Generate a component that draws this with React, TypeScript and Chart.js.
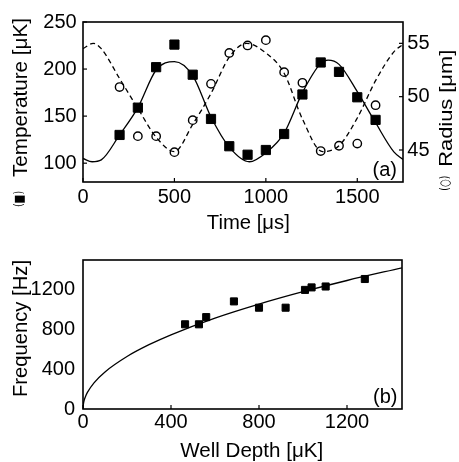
import React, { useEffect, useRef } from 'react';
import { Chart, registerables } from 'chart.js';

Chart.register(...registerables);

const FONT_FAMILY = '"Liberation Sans", Arial, Helvetica, sans-serif';
const SYMBOL_FAMILY = '"DejaVu Sans", "Liberation Sans", sans-serif';

// ---------- Panel (a): oscillation of temperature and radius ----------
const TIME_US = [200, 300, 400, 500, 600, 700, 800, 900, 1000, 1100, 1200, 1300, 1400, 1500, 1600];
const TEMPERATURE_UK = [130, 159, 202, 226, 194, 147, 118, 109, 114, 131, 173, 207, 197, 170, 146];
const RADIUS_UM = [50.9, 46.3, 46.3, 44.8, 47.8, 51.2, 54.1, 54.8, 55.3, 52.3, 51.3, 44.9, 45.4, 45.6, 49.2];

const TEMP_FIT_TIME = [0, 50, 100, 200, 300, 400, 500, 600, 700, 800, 910, 1000, 1100, 1200, 1300, 1340, 1400, 1500, 1600, 1700, 1750];
const TEMP_FIT_UK = [105, 101.5, 103.5, 130, 159, 199, 208, 193, 149, 117, 101.5, 111, 132, 175, 206, 209.5, 205, 176, 143, 112, 104];

const RADIUS_FIT_TIME = [0, 56, 100, 200, 300, 400, 500, 600, 700, 800, 895, 1000, 1100, 1200, 1310, 1400, 1500, 1600, 1700, 1750];
const RADIUS_FIT_UM = [54.5, 55, 54.5, 51.7, 48.9, 46.2, 44.85, 47.4, 50.3, 53.7, 55.0, 54.1, 52.2, 47.9, 44.85, 45.4, 48.0, 51.5, 54.2, 54.9];

const TIME_TICKS = [0, 500, 1000, 1500];
const TEMP_TICKS = [100, 150, 200, 250];
const RADIUS_TICKS = [45, 50, 55];

// ---------- Panel (b): frequency vs well depth ----------
const WELL_DEPTH_UK = [464, 527, 560, 686, 800, 921, 1009, 1039, 1103, 1281];
const FREQUENCY_HZ = [847, 847, 919, 1076, 1013, 1013, 1191, 1216, 1225, 1300];

const FIT_DEPTH_UK = [0, 2, 5, 10, 20, 50, 100, 200, 300, 400, 600, 800, 1000, 1200, 1450];
const FIT_FREQUENCY_HZ = [0, 52, 83, 117, 166, 262, 371, 525, 643, 742, 909, 1049, 1173, 1285, 1412];

const DEPTH_TICKS = [0, 400, 800, 1200];
const FREQ_TICKS = [0, 400, 800, 1200];

const TEXT = {
  tempTitle: 'Temperature [μK]',
  tempSymbol: '(■)',
  radiusTitle: 'Radius [μm]',
  radiusSymbol: '(○)',
  timeTitle: 'Time [μs]',
  panelA: '(a)',
  freqTitle: 'Frequency [Hz]',
  depthTitle: 'Well Depth [μK]',
  panelB: '(b)',
};

type Label = {
  text: string;
  x: number;
  y: number;
  size: number;
  rotate?: boolean;
  align?: CanvasTextAlign;
  length?: number;
  family?: string;
};
type TickMarks = { scaleId: string; side: 'bottom' | 'left' | 'right'; values: number[] };

function decorPlugin(id: string, marks: TickMarks[], labels: Label[]) {
  return {
    id,
    afterDraw(chart: any) {
      const { ctx, chartArea: a } = chart;
      ctx.save();
      ctx.strokeStyle = '#000';
      ctx.lineWidth = 1.6;
      ctx.strokeRect(a.left, a.top, a.right - a.left, a.bottom - a.top);
      ctx.lineWidth = 1.2;
      const L = 4;
      for (const m of marks) {
        const s = chart.scales[m.scaleId];
        for (const v of m.values) {
          const p = s.getPixelForValue(v);
          ctx.beginPath();
          if (m.side === 'bottom') {
            ctx.moveTo(p, a.bottom);
            ctx.lineTo(p, a.bottom - L);
          } else if (m.side === 'left') {
            ctx.moveTo(a.left, p);
            ctx.lineTo(a.left + L, p);
          } else {
            ctx.moveTo(a.right, p);
            ctx.lineTo(a.right - L, p);
          }
          ctx.stroke();
        }
      }
      ctx.fillStyle = '#000';
      for (const l of labels) {
        ctx.save();
        ctx.translate(l.x, l.y);
        if (l.rotate) ctx.rotate(-Math.PI / 2);
        ctx.font = `${l.size}px ${l.family ?? FONT_FAMILY}`;
        if (l.length) {
          const w = ctx.measureText(l.text).width;
          if (w > 0) ctx.scale(l.length / w, 1);
        }
        ctx.textAlign = l.align ?? 'center';
        ctx.textBaseline = 'alphabetic';
        ctx.fillText(l.text, 0, 0);
        ctx.restore();
      }
      ctx.restore();
    },
  };
}

const tickFont = { family: FONT_FAMILY, size: 20 };
const plainLabel = (v: number | string) => String(v);

function fixedTicks(values: number[]) {
  return (scale: any) => {
    scale.ticks = values.map((v) => ({ value: v }));
  };
}

function toPoints(xs: number[], ys: number[]) {
  return xs.map((x, i) => ({ x, y: ys[i] }));
}

const hiddenGrid = { display: false, drawTicks: false, tickLength: 0 };

export default function App() {
  const topRef = useRef<HTMLCanvasElement>(null);
  const botRef = useRef<HTMLCanvasElement>(null);

  useEffect(() => {
    const top = new Chart(topRef.current!, {
      type: 'line',
      data: {
        datasets: [
          {
            label: 'Temperature',
            data: toPoints(TIME_US, TEMPERATURE_UK),
            yAxisID: 'y',
            showLine: false,
            pointStyle: 'rect',
            pointRadius: 6.5,
            backgroundColor: '#000',
            borderColor: '#000',
            borderWidth: 1,
          },
          {
            label: 'Radius',
            data: toPoints(TIME_US, RADIUS_UM),
            yAxisID: 'y1',
            showLine: false,
            pointStyle: 'circle',
            pointRadius: 4.2,
            backgroundColor: 'rgba(0,0,0,0)',
            borderColor: '#000',
            borderWidth: 1.4,
          },
          {
            label: 'Temperature fit',
            data: toPoints(TEMP_FIT_TIME, TEMP_FIT_UK),
            yAxisID: 'y',
            pointRadius: 0,
            borderColor: '#000',
            borderWidth: 1.3,
            cubicInterpolationMode: 'monotone',
            fill: false,
          },
          {
            label: 'Radius fit',
            data: toPoints(RADIUS_FIT_TIME, RADIUS_FIT_UM),
            yAxisID: 'y1',
            pointRadius: 0,
            borderColor: '#000',
            borderWidth: 1.3,
            borderDash: [5, 3.5],
            cubicInterpolationMode: 'monotone',
            fill: false,
          },
        ],
      },
      options: {
        animation: false,
        responsive: false,
        events: [],
        layout: { padding: { top: 22, left: 0, right: 0, bottom: 0 } },
        plugins: { legend: { display: false }, tooltip: { enabled: false } },
        scales: {
          x: {
            type: 'linear',
            position: 'bottom',
            min: 0,
            max: 1750,
            grid: hiddenGrid,
            border: { display: false },
            ticks: { font: tickFont, color: '#000', padding: 3.5, maxRotation: 0, callback: plainLabel },
            afterBuildTicks: fixedTicks(TIME_TICKS),
            afterFit: (s: any) => { s.height = 58; },
          },
          y: {
            type: 'linear',
            position: 'left',
            min: 80,
            max: 250,
            grid: hiddenGrid,
            border: { display: false },
            ticks: { font: tickFont, color: '#000', padding: 6.3, callback: plainLabel },
            afterBuildTicks: fixedTicks(TEMP_TICKS),
            afterFit: (s: any) => { s.width = 83; },
          },
          y1: {
            type: 'linear',
            position: 'right',
            min: 42,
            max: 57,
            grid: hiddenGrid,
            border: { display: false },
            ticks: { font: tickFont, color: '#000', padding: 4.3, callback: plainLabel },
            afterBuildTicks: fixedTicks(RADIUS_TICKS),
            afterFit: (s: any) => { s.width = 56; },
          },
        },
      },
      plugins: [
        decorPlugin(
          'decorA',
          [
            { scaleId: 'x', side: 'bottom', values: TIME_TICKS },
            { scaleId: 'y', side: 'left', values: TEMP_TICKS },
            { scaleId: 'y1', side: 'right', values: RADIUS_TICKS },
          ],
          [
            { text: TEXT.tempTitle, x: 27, y: 97.5, size: 20, rotate: true, length: 159 },
            { text: TEXT.tempSymbol, x: 22.5, y: 199, size: 13, rotate: true, length: 16, family: SYMBOL_FAMILY },
            { text: TEXT.radiusTitle, x: 451.7, y: 108.3, size: 18, rotate: true, length: 117 },
            { text: TEXT.radiusSymbol, x: 449, y: 183.3, size: 13, rotate: true, length: 15, family: SYMBOL_FAMILY },
            { text: TEXT.timeTitle, x: 248.3, y: 229.3, size: 20, length: 83 },
            { text: TEXT.panelA, x: 397, y: 175.5, size: 20, align: 'right' },
          ]
        ),
      ],
    } as any);

    const bot = new Chart(botRef.current!, {
      type: 'line',
      data: {
        datasets: [
          {
            label: 'Frequency',
            data: toPoints(WELL_DEPTH_UK, FREQUENCY_HZ),
            showLine: false,
            pointStyle: 'rect',
            pointRadius: 5,
            backgroundColor: '#000',
            borderColor: '#000',
            borderWidth: 1,
          },
          {
            label: 'Fit',
            data: toPoints(FIT_DEPTH_UK, FIT_FREQUENCY_HZ),
            pointRadius: 0,
            borderColor: '#000',
            borderWidth: 1.3,
            cubicInterpolationMode: 'monotone',
            fill: false,
          },
        ],
      },
      options: {
        animation: false,
        responsive: false,
        events: [],
        layout: { padding: { top: 9, left: 0, right: 57, bottom: 0 } },
        plugins: { legend: { display: false }, tooltip: { enabled: false } },
        scales: {
          x: {
            type: 'linear',
            position: 'bottom',
            min: 0,
            max: 1450,
            grid: hiddenGrid,
            border: { display: false },
            ticks: { font: tickFont, color: '#000', padding: 1.5, maxRotation: 0, callback: plainLabel },
            afterBuildTicks: fixedTicks(DEPTH_TICKS),
            afterFit: (s: any) => { s.height = 53; },
          },
          y: {
            type: 'linear',
            position: 'left',
            min: 0,
            max: 1490,
            grid: hiddenGrid,
            border: { display: false },
            ticks: { font: tickFont, color: '#000', padding: 8, callback: plainLabel },
            afterBuildTicks: fixedTicks(FREQ_TICKS),
            afterFit: (s: any) => { s.width = 83; },
          },
        },
      },
      plugins: [
        decorPlugin(
          'decorB',
          [{ scaleId: 'x', side: 'bottom', values: DEPTH_TICKS }],
          [
            { text: TEXT.freqTitle, x: 26.5, y: 88.5, size: 20, rotate: true, length: 137 },
            { text: TEXT.depthTitle, x: 251.7, y: 216.5, size: 20, length: 143 },
            { text: TEXT.panelB, x: 397.5, y: 162.5, size: 20, align: 'right' },
          ]
        ),
      ],
    } as any);

    return () => {
      top.destroy();
      bot.destroy();
    };
  }, []);

  return (
    <div style={{ position: 'fixed', left: 0, top: 0, width: 459, height: 462, background: '#fff', overflow: 'hidden' }}>
      <canvas ref={topRef} width={459} height={240} style={{ position: 'absolute', left: 0, top: 0, width: 459, height: 240 }} />
      <canvas ref={botRef} width={459} height={222} style={{ position: 'absolute', left: 0, top: 240, width: 459, height: 222 }} />
    </div>
  );
}
